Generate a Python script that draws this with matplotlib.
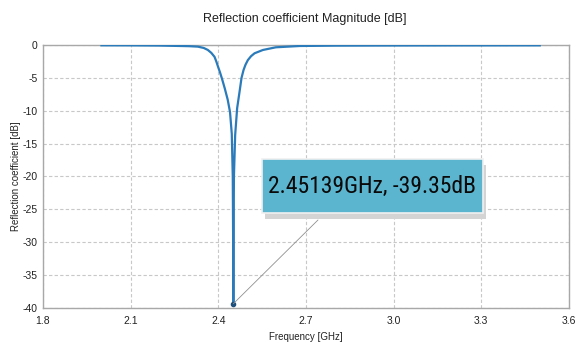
import matplotlib
matplotlib.use("Agg")
import matplotlib.pyplot as plt
from matplotlib.patches import Rectangle
from matplotlib import font_manager

plt.rcParams['font.family'] = ['Liberation Sans', 'DejaVu Sans']

# Data
freq_ghz = [2.000, 2.100, 2.200, 2.270, 2.300, 2.330, 2.350, 2.364, 2.376, 2.387,
            2.393, 2.399, 2.406, 2.413, 2.422, 2.432, 2.440, 2.446, 2.4494, 2.4507, 2.45139,
            2.4521, 2.4534, 2.4576, 2.4644, 2.4720, 2.4794, 2.4863, 2.4930, 2.5010,
            2.5120, 2.5240, 2.5524, 2.5968, 2.6790, 2.800, 3.000, 3.200, 3.500]
s11_db = [-0.05, -0.06, -0.09, -0.15, -0.18, -0.25, -0.45, -0.75, -1.2, -1.8,
          -2.5, -3.3, -4.2, -5.2, -6.6, -8.3, -10.2, -13.5, -20.0, -30.0, -39.35,
          -30.0, -20.0, -13.7, -9.6, -7.3, -5.0, -3.8, -3.0, -2.3,
          -1.7, -1.26, -0.76, -0.35, -0.15, -0.10, -0.08, -0.07, -0.06]
marker_freq = 2.45139
marker_db = -39.35
x_ticks = [1.8, 2.1, 2.4, 2.7, 3.0, 3.3, 3.6]
x_tick_labels = ["1.8", "2.1", "2.4", "2.7", "3.0", "3.3", "3.6"]
y_ticks = [0, -5, -10, -15, -20, -25, -30, -35, -40]
y_tick_labels = ["0", "-5", "-10", "-15", "-20", "-25", "-30", "-35", "-40"]
title = "Reflection coefficient Magnitude [dB]"
x_label = "Frequency [GHz]"
y_label = "Reflection coefficient [dB]"
marker_text = "2.45139GHz, -39.35dB"

available = {f.name for f in font_manager.fontManager.ttflist}
narrow = None
for cand in ["DejaVu Sans Condensed", "Liberation Sans Narrow", "Roboto Condensed",
             "Open Sans Condensed"]:
    if cand in available:
        narrow = cand
        break

fig = plt.figure(figsize=(5.78, 3.44), dpi=100)
fig.patch.set_facecolor("white")
ax = fig.add_axes([0.0744, 0.1047, 0.91, 0.7645])

ax.plot(freq_ghz, s11_db, color="#2b7bba", lw=1.6, zorder=3)
ax.plot([marker_freq], [marker_db], 'o', color="#1d4f7c", ms=3, zorder=4)

ax.set_xlim(1.8, 3.6)
ax.set_ylim(-40, 0)
ax.set_xticks(x_ticks)
ax.set_xticklabels(x_tick_labels)
ax.set_yticks(y_ticks)
ax.set_yticklabels(y_tick_labels)
ax.tick_params(length=0, labelsize=7.5, colors="#222222")
ax.tick_params(axis="x", pad=6)
ax.tick_params(axis="y", pad=4)
ax.grid(True, color="#c8c8c8", ls=(0, (3, 2)), lw=0.8)
for s in ax.spines.values():
    s.set_color("#a8a8a8")
    s.set_linewidth(1.0)

fig.text(0.528, 0.945, title, ha="center", va="center", fontsize=9, color="#222222")
ax.set_xlabel(x_label, fontsize=7, color="#222222", labelpad=4)
ax.set_ylabel(y_label, fontsize=7, color="#222222", labelpad=1)

# connector
ax.annotate("", xy=(marker_freq, marker_db), xycoords="data",
            xytext=(0.5228, 0.3346), textcoords="axes fraction",
            arrowprops=dict(arrowstyle="-", color="#909090", lw=0.6, shrinkA=0, shrinkB=0),
            zorder=4)

# marker box with shadow
bx0, by0, bw, bh = 0.4163, 0.3612, 0.4197, 0.2053
ax.add_patch(Rectangle((bx0 + 0.006, by0 - 0.022), bw, bh, transform=ax.transAxes,
                       facecolor="#d4d4d4", edgecolor="none", zorder=5, clip_on=False))
ax.add_patch(Rectangle((bx0, by0), bw, bh, transform=ax.transAxes,
                       facecolor="#5bb5cf", edgecolor="#f0f0f0", lw=1.2, zorder=6, clip_on=False))
if narrow:
    fam = [narrow, "DejaVu Sans"]
    fs = 17
else:
    fam = ["Liberation Sans", "DejaVu Sans"]
    fs = 14
ax.text(bx0 + bw / 2, by0 + bh / 2, marker_text, transform=ax.transAxes,
        ha="center", va="center", fontsize=fs, color="#0a0a0a",
        family=fam, zorder=7)

fig.savefig("out.png", dpi=100)
